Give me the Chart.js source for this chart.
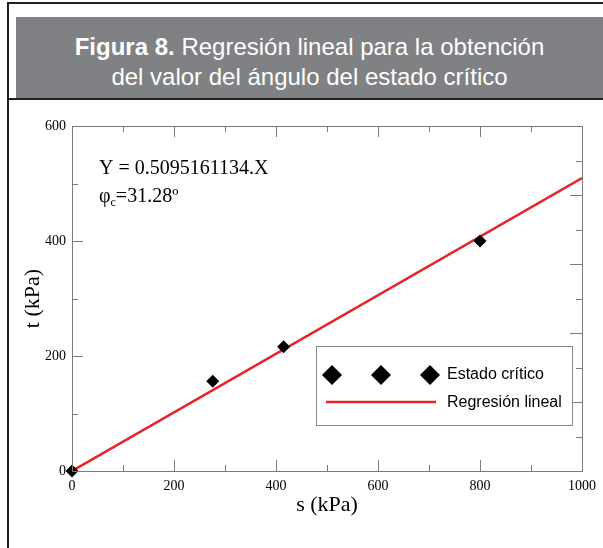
<!DOCTYPE html>
<html>
<head>
<meta charset="utf-8">
<script src="https://cdn.jsdelivr.net/npm/chart.js@4/dist/chart.umd.min.js"></script>
<style>
  body { margin: 0; background: #fff; }
  #wrap { position: relative; width: 603px; height: 548px; overflow: hidden; }
  #myChart { position: absolute; left: 0; top: 0; }
  .frame { position: absolute; left: 7px; top: 2px; width: 620px; height: 560px;
    border-left: 2.5px solid #231f20; border-top: 2.5px solid #231f20; }
  .title { position: absolute; left: 16px; top: 17px; width: 587px; height: 81px;
    background: #808184; color: #fff; font-family: 'Liberation Sans', Arial, sans-serif;
    font-size: 24px; line-height: 30px; text-align: center; box-sizing: border-box; padding-top: 15px; }
  .underline { position: absolute; left: 8px; top: 98px; width: 600px; height: 2px; background: #231f20; }
</style>
</head>
<body>
<div id="wrap">
  <canvas id="myChart" width="603" height="548"></canvas>
  <div class="frame"></div>
  <div class="title"><b>Figura 8.</b> Regresión lineal para la obtención<br>del valor del ángulo del estado crítico</div>
  <div class="underline"></div>
</div>
<script>
  // puntos medidos (s, t) en kPa
  const sVals = [0, 276, 415, 800];
  const tVals = [0, 156, 216, 400];

  // recta de regresión Y = 0.5095161134.X
  const regS = [0, 1000];
  const regT = [0, 509.5];

  const xTicks = [0, 200, 400, 600, 800, 1000];
  const yTicks = [0, 200, 400, 600];

  const serif = "'Liberation Serif', 'Times New Roman', serif";
  const sans = "'Liberation Sans', Arial, sans-serif";
  const axisGray = '#7a7a7a';
  const red = 'rgb(232, 36, 40)';

  const framePlugin = {
    id: 'frame',
    afterDraw: (chart) => {
      const ctx = chart.ctx;
      const a = chart.chartArea;
      const x = chart.scales.x, y = chart.scales.y, y2 = chart.scales.y2;
      ctx.save();
      ctx.strokeStyle = axisGray;
      ctx.lineWidth = 1;
      ctx.strokeRect(Math.round(a.left) + 0.5, Math.round(a.top) + 0.5,
        Math.round(a.right - a.left), Math.round(a.bottom - a.top));

      ctx.beginPath();
      for (let v = 100; v < 1000; v += 100) {
        const px = Math.round(x.getPixelForValue(v)) + 0.5;
        const len = v % 200 === 0 ? 11 : 6;
        ctx.moveTo(px, a.bottom); ctx.lineTo(px, a.bottom - len);
        ctx.moveTo(px, a.top); ctx.lineTo(px, a.top + len);
      }
      for (let v = 100; v < 600; v += 100) {
        const py = Math.round(y.getPixelForValue(v)) + 0.5;
        const len = v % 200 === 0 ? 11 : 6;
        ctx.moveTo(a.left, py); ctx.lineTo(a.left + len, py);
      }
      for (let v = 1; v < 10; v++) {
        const py = Math.round(y2.getPixelForValue(v)) + 0.5;
        const len = v % 2 === 0 ? 12 : 6;
        ctx.moveTo(a.right, py); ctx.lineTo(a.right - len, py);
      }
      ctx.stroke();

      // ecuación
      ctx.fillStyle = '#000';
      ctx.textBaseline = 'alphabetic';
      ctx.font = '20px ' + serif;
      const tx = a.left + 27;
      ctx.fillText('Y = 0.5095161134.X', tx, 174);
      ctx.fillText('φ', tx, 202);
      let w = ctx.measureText('φ').width;
      ctx.font = '12px ' + serif;
      ctx.fillText('c', tx + w, 206);
      w += ctx.measureText('c').width;
      ctx.font = '20px ' + serif;
      ctx.fillText('=31.28º', tx + w, 202);

      // leyenda
      const lx = 316, ly = 346, lw = 256, lh = 79;
      ctx.fillStyle = '#fff';
      ctx.fillRect(lx, ly, lw, lh);
      ctx.strokeStyle = '#8a8a8a';
      ctx.strokeRect(lx + 0.5, ly + 0.5, lw, lh);
      ctx.fillStyle = '#000';
      [332, 381, 430].forEach(cx => {
        ctx.beginPath();
        ctx.moveTo(cx - 10, 375); ctx.lineTo(cx, 365);
        ctx.lineTo(cx + 10, 375); ctx.lineTo(cx, 385);
        ctx.closePath();
        ctx.fill();
      });
      ctx.strokeStyle = red;
      ctx.lineWidth = 2.5;
      ctx.beginPath();
      ctx.moveTo(326, 402); ctx.lineTo(436, 402);
      ctx.stroke();
      ctx.font = '16px ' + sans;
      ctx.textBaseline = 'middle';
      ctx.fillText('Estado crítico', 447, 375);
      ctx.fillText('Regresión lineal', 447, 403);
      ctx.restore();
    }
  };

  const data = {
    datasets: [{
      type: 'line',
      label: 'Regresión lineal',
      data: regS.map((s, i) => ({x: s, y: regT[i]})),
      borderColor: red,
      borderWidth: 2.5,
      pointRadius: 0,
      fill: false,
      order: 2,
    }, {
      type: 'scatter',
      label: 'Estado crítico',
      data: sVals.map((s, i) => ({x: s, y: tVals[i]})),
      pointStyle: 'rectRot',
      pointRadius: 6.5,
      backgroundColor: '#000',
      borderColor: '#000',
      borderWidth: 0,
      clip: false,
      order: 1,
    }]
  };

  const config = {
    type: 'scatter',
    data: data,
    options: {
      responsive: false,
      animation: false,
      devicePixelRatio: 1,
      layout: { padding: { left: 0, right: 0, top: 126, bottom: 0 } },
      plugins: {
        legend: { display: false },
        tooltip: { enabled: false },
      },
      scales: {
        x: {
          type: 'linear',
          position: 'bottom',
          min: 0, max: 1000,
          afterBuildTicks: (scale) => { scale.ticks = xTicks.map(v => ({value: v})); },
          grid: { display: false, drawTicks: false },
          border: { display: false },
          ticks: { color: '#000', font: { family: serif, size: 14 }, padding: 7, maxRotation: 0,
            callback: (v) => String(v) },
          title: { display: true, text: 's (kPa)', color: '#000', font: { family: serif, size: 22 }, padding: { top: 0, bottom: 30 } },
          afterFit: (scale) => { scale.height = 77; },
        },
        y: {
          type: 'linear',
          position: 'left',
          min: 0, max: 600,
          afterBuildTicks: (scale) => { scale.ticks = yTicks.map(v => ({value: v})); },
          grid: { display: false, drawTicks: false },
          border: { display: false },
          ticks: { color: '#000', font: { family: serif, size: 14 }, padding: 6 },
          title: { display: true, text: 't (kPa)', color: '#000', font: { family: serif, size: 22 }, padding: { top: 20, bottom: 0 } },
          afterFit: (scale) => { scale.width = 72; },
        },
        y2: {
          type: 'linear',
          position: 'right',
          min: 0, max: 10,
          grid: { display: false, drawTicks: false },
          border: { display: false },
          ticks: { display: false },
          afterFit: (scale) => { scale.width = 17; },
        },
      },
    },
    plugins: [framePlugin],
  };

  const myChart = new Chart(
    document.getElementById('myChart'),
    config
  );
</script>
</body>
</html>
